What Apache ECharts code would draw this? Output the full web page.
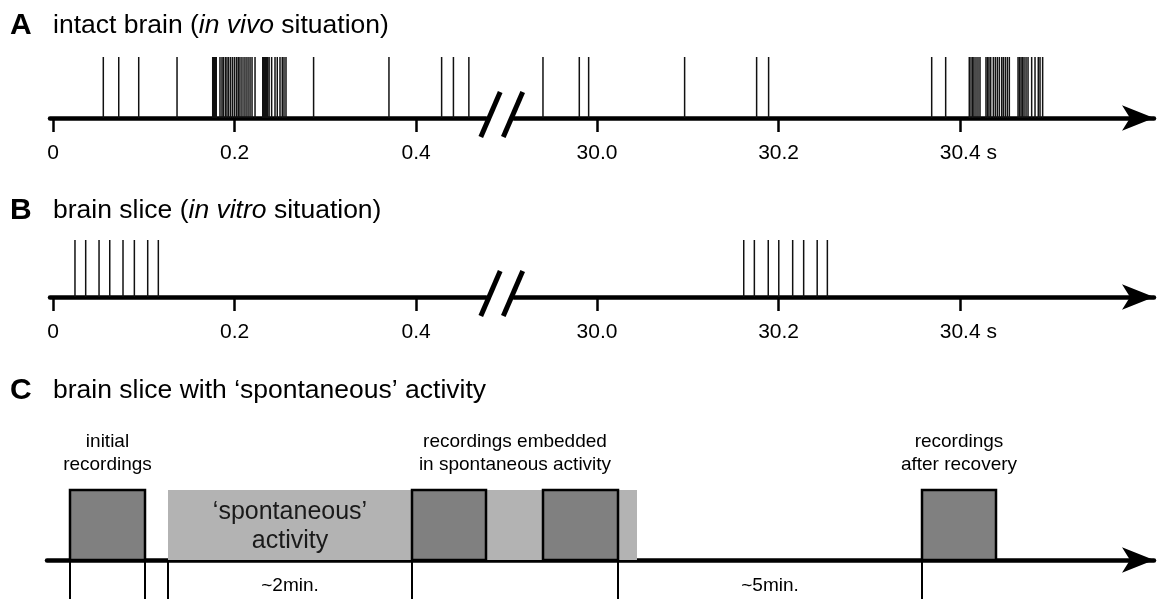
<!DOCTYPE html>
<html>
<head>
<meta charset="utf-8">
<script src="https://cdn.jsdelivr.net/npm/echarts@6/dist/echarts.min.js"></script>
<style>
  html, body { margin: 0; padding: 0; background: #fff; }
  #chart { width: 1170px; height: 599px; }
</style>
</head>
<body>
<div id="chart"></div>
<script>
// ---- Spike trains (times in seconds) ----
// A: intact brain, first half second and around 30 s
const spikesInVivoEarly = [
  0.0554, 0.0724, 0.0944, 0.1366,
  0.1759, 0.1765, 0.1771, 0.1777, 0.1783, 0.1790, 0.1798,
  0.1839, 0.1861, 0.1876, 0.1898, 0.1916, 0.1935, 0.1957, 0.1979, 0.2001,
  0.2023, 0.2041, 0.2059, 0.2081, 0.2104, 0.2126, 0.2148, 0.2170, 0.2192, 0.2225,
  0.2310, 0.2318, 0.2326, 0.2334, 0.2342, 0.2352, 0.2365, 0.2380,
  0.2408, 0.2445, 0.2470, 0.2500, 0.2525, 0.2544, 0.2566,
  0.2870, 0.3700, 0.4280, 0.4410, 0.4580
];
const spikesInVivoLate = [
  29.9405, 29.9805, 29.9908, 30.0965, 30.1758, 30.1890, 30.3686, 30.3840,
  30.4100, 30.4119, 30.4138, 30.4152, 30.4174, 30.4196, 30.4218,
  30.4284, 30.4301, 30.4317, 30.4336, 30.4365, 30.4387, 30.4409, 30.4431,
  30.4457, 30.4475, 30.4497, 30.4519, 30.4541,
  30.4637, 30.4653, 30.4670, 30.4686, 30.4703, 30.4725, 30.4747,
  30.4787, 30.4824, 30.4860, 30.4879, 30.4908
];
// B: brain slice, evoked bursts only
const spikesInVitroEarly = [0.0242, 0.0360, 0.0507, 0.0625, 0.0771, 0.0896, 0.1043, 0.1160];
const spikesInVitroLate = [30.1616, 30.1733, 30.1886, 30.2002, 30.2155, 30.2276, 30.2425, 30.2537];

// Time axis ticks
const earlyTicks = [0, 0.2, 0.4];
const earlyTickLabels = ['0', '0.2', '0.4'];
const lateTicks = [30.0, 30.2, 30.4];
const lateTickLabels = ['30.0', '30.2', '30.4 s'];

// ---- C: protocol timeline (schematic units along the axis) ----
const recordingBlocks = [[23, 98], [365, 439], [496, 571], [875, 949]];
const spontaneousPeriod = [121, 590];
const eventMarkers = [23, 98, 121, 365, 571, 875];
const groupTexts = ['initial\nrecordings', 'recordings embedded\nin spontaneous activity', 'recordings\nafter recovery'];
const groupBlocks = [[0], [1, 2], [3]];
const intervalTexts = ['~2min.', '~5min.'];
const intervalBounds = [[121, 365], [571, 875]];
const spontaneousText = '\u2018spontaneous\u2019\nactivity';

// Panel headings
const panelLetters = ['A', 'B', 'C'];
const panelTitleParts = [
  ['intact brain (', 'in vivo', ' situation)'],
  ['brain slice (', 'in vitro', ' situation)'],
  ['brain slice with \u2018spontaneous\u2019 activity', '', '']
];

// ---- Layout ----
const FONT = '"Liberation Sans", Arial, sans-serif';
const PX_PER_S = 908;
const ZERO_X = 53, LATE_ZERO_X = 597;        // pixel of t = 0 and t = 30.0
const EARLY_LEFT = 50, BREAK_L = 486, BREAK_R = 514, AXIS_END = 1154;
const rows = [
  { top: 57, axisY: 118, early: spikesInVivoEarly, late: spikesInVivoLate, titleTop: 10 },
  { top: 240, axisY: 297, early: spikesInVitroEarly, late: spikesInVitroLate, titleTop: 195 }
];
const C_TOP = 490, C_AXIS_Y = 560, C_LEFT = 47;
const C_TITLE_TOP = 375;

const earlyMin = (EARLY_LEFT - ZERO_X) / PX_PER_S;
const earlyMax = (BREAK_L - ZERO_X) / PX_PER_S;
const lateMin = 30 + (BREAK_R - LATE_ZERO_X) / PX_PER_S;
const lateMax = 30 + (AXIS_END - LATE_ZERO_X) / PX_PER_S;

const chart = echarts.init(document.getElementById('chart'), null, { renderer: 'canvas' });

function labelFor(value, ticks, labels) {
  let best = 0;
  ticks.forEach((t, i) => { if (Math.abs(t - value) < Math.abs(ticks[best] - value)) best = i; });
  const txt = labels[best];
  // keep the number centred on its tick when a unit follows it
  return txt.endsWith(' s') ? '{pad|}' + txt : txt;
}

function timeAxis(gridIndex, min, max, ticks, labels, arrow) {
  return {
    type: 'value', gridIndex, min, max,
    axisLine: {
      show: true, onZero: false,
      lineStyle: { color: '#000', width: 4.5 },
      symbol: arrow ? ['none', 'arrow'] : 'none',
      symbolSize: [19, 32]
    },
    axisTick: { show: true, customValues: ticks, length: 14, lineStyle: { color: '#000', width: 2.5 } },
    axisLabel: {
      show: true, customValues: ticks, margin: 25,
      fontSize: 21, fontFamily: FONT, color: '#000',
      formatter: v => labelFor(v, ticks, labels),
      rich: { pad: { width: 16.3, fontSize: 21 } }
    },
    splitLine: { show: false }
  };
}

function hiddenY(gridIndex, min, max) {
  return { type: 'value', gridIndex, min, max, show: false,
    axisLine: { show: false }, axisTick: { show: false }, axisLabel: { show: false }, splitLine: { show: false } };
}

function renderSpike(params, api) {
  const t = api.value(0);
  const a = api.coord([t, 0]);
  const b = api.coord([t, 1]);
  return { type: 'line', shape: { x1: a[0], y1: a[1], x2: b[0], y2: b[1] },
    style: { stroke: '#111', lineWidth: 1.5 } };
}

const grids = [], xAxes = [], yAxes = [], series = [], graphics = [];

rows.forEach((row, r) => {
  const h = row.axisY - row.top;
  grids.push({ left: EARLY_LEFT, top: row.top, width: BREAK_L - EARLY_LEFT, height: h });
  grids.push({ left: BREAK_R, top: row.top, width: AXIS_END - BREAK_R, height: h });
  const gL = r * 2, gR = r * 2 + 1;
  xAxes.push(timeAxis(gL, earlyMin, earlyMax, earlyTicks, earlyTickLabels, false));
  xAxes.push(timeAxis(gR, lateMin, lateMax, lateTicks, lateTickLabels, true));
  yAxes.push(hiddenY(gL, 0, 1));
  yAxes.push(hiddenY(gR, 0, 1));
  series.push({ type: 'custom', xAxisIndex: gL, yAxisIndex: gL, clip: false,
    data: row.early.map(t => [t]), renderItem: renderSpike, silent: true, z: 3 });
  series.push({ type: 'custom', xAxisIndex: gR, yAxisIndex: gR, clip: false,
    data: row.late.map(t => [t]), renderItem: renderSpike, silent: true, z: 3 });
  // axis break: two slanted strokes across the gap
  [BREAK_L + 3, BREAK_R - 2.5].forEach(cx => {
    graphics.push({ type: 'line', z: 10,
      shape: { x1: cx + 11.2, y1: row.axisY - 26, x2: cx - 8.2, y2: row.axisY + 19 },
      style: { stroke: '#000', lineWidth: 5 } });
  });
});

// Panel C grid
const gC = grids.length;
grids.push({ left: C_LEFT, top: C_TOP, width: AXIS_END - C_LEFT, height: C_AXIS_Y - C_TOP });
xAxes.push({
  type: 'value', gridIndex: gC, min: 0, max: AXIS_END - C_LEFT,
  axisLine: { show: true, onZero: false, lineStyle: { color: '#000', width: 4.5 },
    symbol: ['none', 'arrow'], symbolSize: [19, 32] },
  axisTick: { show: false }, axisLabel: { show: false }, splitLine: { show: false }
});
yAxes.push(hiddenY(gC, 0, 1));

// spontaneous activity band
series.push({
  type: 'custom', xAxisIndex: gC, yAxisIndex: gC, clip: false, silent: true, z: 1,
  data: [spontaneousPeriod],
  renderItem(params, api) {
    const p0 = api.coord([api.value(0), 1]);
    const p1 = api.coord([api.value(1), 0]);
    const textX = api.coord([(api.value(0) + recordingBlocks[1][0]) / 2, 0.5]);
    return { type: 'group', children: [
      { type: 'rect', shape: { x: p0[0], y: p0[1], width: p1[0] - p0[0], height: p1[1] - p0[1] },
        style: { fill: '#b3b3b3' } },
      { type: 'text', style: { text: spontaneousText, x: textX[0], y: textX[1] + 2,
        align: 'center', verticalAlign: 'middle', fontSize: 25, lineHeight: 29,
        fontFamily: FONT, fill: '#1a1a1a' } }
    ] };
  }
});

// recording blocks
series.push({
  type: 'custom', xAxisIndex: gC, yAxisIndex: gC, clip: false, silent: true, z: 2,
  data: recordingBlocks,
  renderItem(params, api) {
    const p0 = api.coord([api.value(0), 1]);
    const p1 = api.coord([api.value(1), 0]);
    return { type: 'rect', shape: { x: p0[0], y: p0[1], width: p1[0] - p0[0], height: p1[1] - p0[1] },
      style: { fill: '#808080', stroke: '#000', lineWidth: 2.5 } };
  }
});

// event markers below the axis
series.push({
  type: 'custom', xAxisIndex: gC, yAxisIndex: gC, clip: false, silent: true, z: 2,
  data: eventMarkers.map(x => [x]),
  renderItem(params, api) {
    const a = api.coord([api.value(0), 0]);
    const b = api.coord([api.value(0), -0.8]);
    return { type: 'line', shape: { x1: a[0], y1: a[1], x2: b[0], y2: b[1] },
      style: { stroke: '#000', lineWidth: 2 } };
  }
});

// interval durations
series.push({
  type: 'custom', xAxisIndex: gC, yAxisIndex: gC, clip: false, silent: true, z: 2,
  data: intervalBounds.map((b, i) => [b[0], b[1], i]),
  renderItem(params, api) {
    const p = api.coord([(api.value(0) + api.value(1)) / 2, 0]);
    return { type: 'text', style: { text: intervalTexts[api.value(2)], x: p[0], y: p[1] + 26,
      align: 'center', verticalAlign: 'middle', fontSize: 19, fontFamily: FONT, fill: '#000' } };
  }
});

// recording group captions
series.push({
  type: 'custom', xAxisIndex: gC, yAxisIndex: gC, clip: false, silent: true, z: 2,
  data: groupBlocks.map((idx, i) => [recordingBlocks[idx[0]][0], recordingBlocks[idx[idx.length - 1]][1], i]),
  renderItem(params, api) {
    const p = api.coord([(api.value(0) + api.value(1)) / 2, 1]);
    return { type: 'text', style: { text: groupTexts[api.value(2)], x: p[0], y: p[1] - 14,
      align: 'center', verticalAlign: 'bottom', fontSize: 19, lineHeight: 23, fontFamily: FONT, fill: '#000' } };
  }
});

const titleTops = [rows[0].titleTop, rows[1].titleTop, C_TITLE_TOP];
const titles = panelLetters.map((L, i) => {
  const [pre, ital, post] = panelTitleParts[i];
  let text = '{L|' + L + '}{t|' + pre + '}';
  if (ital) text += '{i|' + ital + '}{t|' + post + '}';
  return {
    text, left: 10, top: titleTops[i], padding: 0,
    textStyle: { fontWeight: 'normal', rich: {
      L: { fontSize: 30, fontWeight: 'bold', fontFamily: FONT, color: '#000', width: 43, lineHeight: 32 },
      t: { fontSize: 26.5, fontWeight: 'normal', fontFamily: FONT, color: '#000', lineHeight: 32 },
      i: { fontSize: 26.5, fontWeight: 'normal', fontStyle: 'italic', fontFamily: FONT, color: '#000', lineHeight: 32 }
    } }
  };
});

chart.setOption({
  animation: false,
  backgroundColor: '#fff',
  title: titles,
  grid: grids,
  xAxis: xAxes,
  yAxis: yAxes,
  series,
  graphic: graphics
});
</script>
</body>
</html>
